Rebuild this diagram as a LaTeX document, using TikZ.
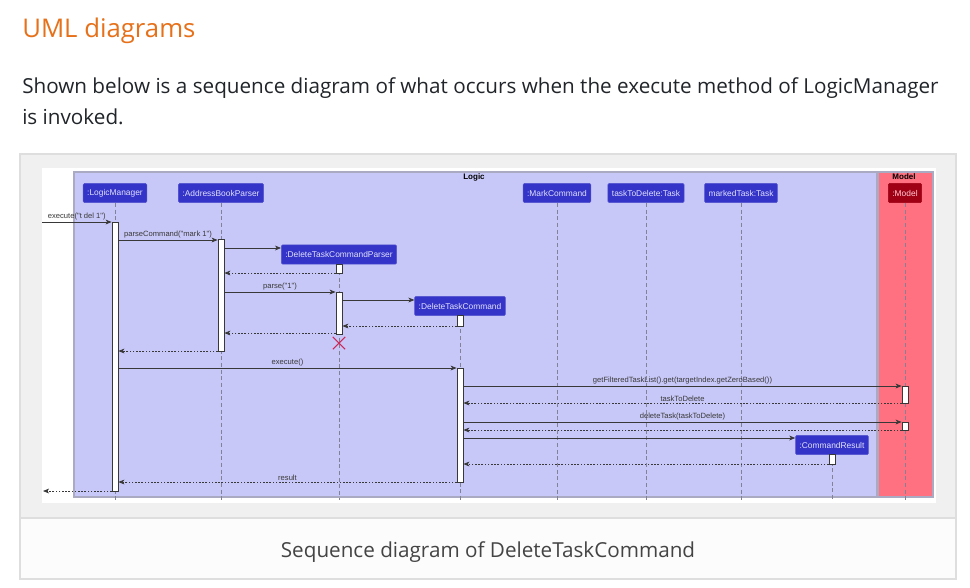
\documentclass[tikz,border=0pt]{standalone}
\usepackage{fontspec}
\setmainfont{Open Sans}
\newfontfamily\umlfont{Liberation Sans}
\usetikzlibrary{arrows.meta,shapes.misc,fit}

\definecolor{titleorange}{RGB}{230,113,26}
\definecolor{bodytext}{RGB}{33,37,41}
\definecolor{captiontext}{RGB}{68,68,68}
\definecolor{framegray}{RGB}{240,240,240}
\definecolor{frameline}{RGB}{222,222,222}
\definecolor{captionbg}{RGB}{252,252,252}
\definecolor{logicfill}{RGB}{200,200,248}
\definecolor{logicline}{RGB}{170,170,195}
\definecolor{modelfill}{RGB}{255,112,128}
\definecolor{partblue}{RGB}{52,52,200}
\definecolor{parttext}{RGB}{225,225,255}
\definecolor{modelred}{RGB}{160,0,20}
\definecolor{modeltext}{RGB}{255,205,215}
\definecolor{msgline}{RGB}{56,56,56}
\definecolor{lifegray}{RGB}{130,130,150}
\definecolor{xred}{RGB}{204,40,90}

\tikzset{
  part/.style={fill=partblue, draw=partblue!85!white, text=parttext, rounded corners=1pt,
    font=\umlfont\fontsize{6.3}{7}\selectfont, inner xsep=3pt, inner ysep=0pt, minimum height=14.5pt},
  modelpart/.style={part, fill=modelred, draw=modelred, text=modeltext},
  lifeline/.style={draw=lifegray, line width=0.5pt, dash pattern=on 3pt off 2pt},
  bar/.style={draw=msgline, fill=white, line width=0.6pt, inner sep=0pt, minimum width=4.5pt},
  msg/.style={draw=msgline, line width=0.6pt, -{Stealth[length=4.5pt,width=3.6pt,inset=1.2pt]}},
  ret/.style={msg, dash pattern=on 1.2pt off 1.2pt},
  lbl/.style={above, inner sep=1pt, text=msgline, font=\umlfont\fontsize{5.7}{6.5}\selectfont},
  grouplbl/.style={inner sep=0pt, font=\umlfont\bfseries\fontsize{6}{7}\selectfont},
}

\begin{document}
\begin{tikzpicture}[x=0.75pt, y=-0.75pt]
\useasboundingbox (0,0) rectangle (970,587);
\fill[white] (0,0) rectangle (970,587);
\draw[frameline, fill=framegray, line width=1.1pt] (20,154) rectangle (956,579);
\fill[white] (42,168) rectangle (936,503);
\draw[frameline, fill=captionbg, line width=1.1pt] (20,518) rectangle (956,579);

\node[anchor=base west, inner sep=0pt, text=titleorange, font=\fontsize{19.3}{23}\selectfont] (title) at (22,37) {UML diagrams};
\node[anchor=base west, inner sep=0pt, text=bodytext, font=\fontsize{15.5}{19}\selectfont] (intro) at (22,93) {Shown below is a sequence diagram of what occurs when the execute method of LogicManager};
\node[anchor=base west, inner sep=0pt, text=bodytext, font=\fontsize{15.5}{19}\selectfont] (introend) at (22,124) {is invoked.};
\node[anchor=base, inner sep=0pt, text=captiontext, font=\fontsize{15.5}{19}\selectfont] (caption) at (488,557) {Sequence diagram of DeleteTaskCommand};

\draw[logicline, fill=logicfill, line width=0.8pt] (74,172) rectangle (877,497);
\draw[logicline, fill=modelfill, line width=0.8pt] (878,172) rectangle (933,497);
\node[grouplbl] (logiclbl) at (474,177) {Logic};
\node[grouplbl] (modellbl) at (904,177) {Model};

\node[part] (lm) at (115,193) {:LogicManager};
\node[part] (abp) at (221,193) {:AddressBookParser};
\node[part] (mc) at (557,193) {:MarkCommand};
\node[part] (ttd) at (646,193) {taskToDelete:Task};
\node[part] (mt) at (741,193) {markedTask:Task};
\node[modelpart] (model) at (905,193) {:Model};
\node[part] (dtcp) at (339,254.5) {:DeleteTaskCommandParser};
\node[part] (dtc) at (460,306) {:DeleteTaskCommand};
\node[part] (cr) at (832,445) {:CommandResult};

\foreach \p in {lm,abp,mc,ttd,mt,model,dtcp,dtc,cr}
  \draw[lifeline] (\p.south) -- (\p.south |- 0,500);

\foreach \n/\x/\ya/\yb in {lmbar/115/222/491, abpbar/221/239/351, dtcpbar/339/264/273,
    dtcpbarb/339/292/334, dtcbar/460/315/326, dtcbarb/460/368/482, modelbar/905/386/403,
    modelbarb/905/422/430, crbar/832/454/464}
  \node[bar, fit={(\x,\ya) (\x,\yb)}] (\n) {};

\coordinate (in) at (42,222);
\coordinate (out) at (43,491);
\draw[msg] (in) -- node[lbl] {execute("t del 1")} (lmbar.west |- in);
\draw[msg] (lmbar.east |- 0,240) -- node[lbl] {parseCommand("mark 1")} (abpbar.west |- 0,240);
\draw[msg] (abpbar.east |- 0,248) -- (dtcp.west |- 0,248);
\draw[ret] (dtcpbar.west |- 0,273) -- (abpbar.east |- 0,273);
\draw[msg] (abpbar.east |- 0,292) -- node[lbl] {parse("1")} (dtcpbarb.west |- 0,292);
\draw[msg] (dtcpbarb.east |- 0,300) -- (dtc.west |- 0,300);
\draw[ret] (dtcbar.west |- 0,326) -- (dtcpbarb.east |- 0,326);
\draw[ret] (dtcpbarb.west |- 0,333) -- (abpbar.east |- 0,333);
\node[cross out, draw=xred, line width=0.8pt, minimum size=8.5pt, inner sep=0pt] (dtcpend) at (339,343) {};
\draw[ret] (abpbar.west |- 0,351) -- (lmbar.east |- 0,351);
\draw[msg] (lmbar.east |- 0,368) -- node[lbl] {execute()} (dtcbarb.west |- 0,368);
\draw[msg] (dtcbarb.east |- 0,386) -- node[lbl] {getFilteredTaskList().get(targetIndex.getZeroBased())} (modelbar.west |- 0,386);
\draw[ret] (modelbar.west |- 0,403) -- node[lbl] {taskToDelete} (dtcbarb.east |- 0,403);
\draw[msg] (dtcbarb.east |- 0,422) -- node[lbl] {deleteTask(taskToDelete)} (modelbarb.west |- 0,422);
\draw[ret] (modelbarb.west |- 0,430) -- (dtcbarb.east |- 0,430);
\draw[msg] (dtcbarb.east |- 0,438) -- (cr.west |- 0,438);
\draw[ret] (crbar.west |- 0,464) -- (dtcbarb.east |- 0,464);
\draw[ret] (dtcbarb.west |- 0,482) -- node[lbl] {result} (lmbar.east |- 0,482);
\draw[ret] (lmbar.west |- out) -- (out);
\end{tikzpicture}
\end{document}
